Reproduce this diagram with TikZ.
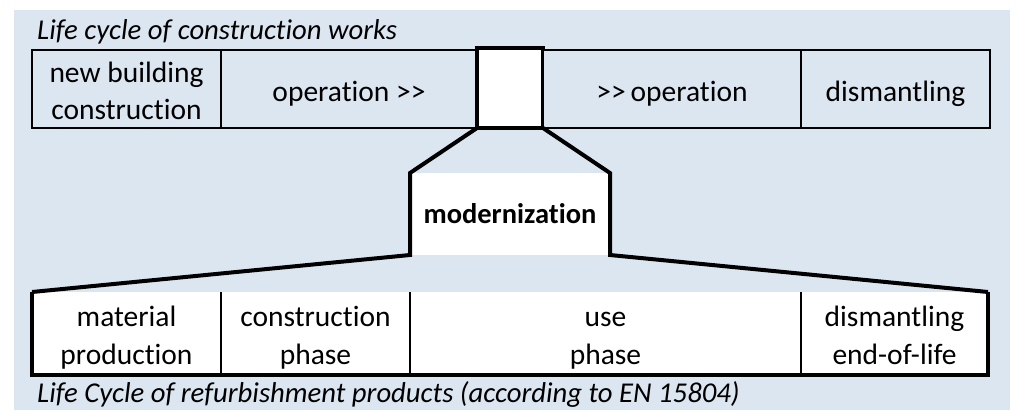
\documentclass[tikz,border=0pt]{standalone}
\usepackage{fontspec}
\setmainfont{Carlito}[Ligatures=NoCommon]
\usetikzlibrary{positioning}
\definecolor{panelbg}{RGB}{220,230,241}
\newcommand\headstrut{\rule{0pt}{32pt}}
\newcommand\footstrut{\rule[-8pt]{0pt}{8pt}}

\begin{document}
\begin{tikzpicture}[
  x=1pt, y=-1pt,
  font=\fontsize{29.5}{37.5}\selectfont,
  topcell/.style={draw=black, line width=2pt, fill=panelbg, align=center, minimum height=78pt, inner sep=0pt, outer sep=0pt},
  lowcell/.style={fill=white, align=center, minimum height=83pt, inner sep=0pt, outer sep=0pt},
  heavy/.style={line width=4pt, line join=miter},
  divider/.style={line width=2.5pt},
  caption/.style={font=\fontsize{28.7}{35}\selectfont\itshape, anchor=base west, inner sep=0pt}
]
  % page and panel
  \useasboundingbox (0,0) rectangle (1017,410);
  \fill[panelbg] (14,10) rectangle (1010,410);

  % life cycle of the building
  \node[caption] (lifecycle) at (37,39) {Life cycle of construction works};
  \node[topcell, minimum width=189pt, anchor=north west] (build) at (32,50) {\headstrut new building\\construction\footstrut};
  \node[topcell, minimum width=256pt, right=0pt of build] (opA) {\headstrut operation {>}{>}\footstrut};
  \node[topcell, fill=white, line width=3.5pt, minimum width=66pt, minimum height=80pt, anchor=south west] (gap) at (opA.south east) {};
  \node[topcell, minimum width=258pt, anchor=south west] (opB) at (gap.south east) {\headstrut{>}{>}\,operation\footstrut};
  \node[topcell, minimum width=189pt, right=0pt of opB] (dism) {\headstrut dismantling\footstrut};

  % zoomed step
  \node[fill=white, minimum width=200pt, minimum height=82pt, inner sep=0pt, outer sep=0pt, anchor=north west,
    font=\fontsize{28.5}{35}\selectfont\bfseries] (modern) at (410,173) {modernization};

  % life cycle of the products
  \node[lowcell, minimum width=189pt, anchor=north west] (mat) at (32,292) {\headstrut material\\production\footstrut};
  \node[lowcell, minimum width=189pt, right=0pt of mat] (constr) {\headstrut construction\\phase\footstrut};
  \node[lowcell, minimum width=391pt, right=0pt of constr] (use) {\headstrut use\\phase\footstrut};
  \node[lowcell, minimum width=187pt, right=0pt of use] (eol) {\headstrut dismantling\\end-of-life\footstrut};
  \node[caption] (refurb) at (37,402) {Life Cycle of refurbishment products (according to EN 15804)};

  \draw[divider] (mat.north east) -- (mat.south east);
  \draw[divider] (constr.north east) -- (constr.south east);
  \draw[divider] (use.north east) -- (use.south east);
  \draw[heavy] (mat.north west) -- (mat.south west) -- (eol.south east) -- (eol.north east);

  % funnel
  \draw[heavy] (gap.south west) -- (modern.north west) -- (modern.south west) -- (mat.north west);
  \draw[heavy] (gap.south east) -- (modern.north east) -- (modern.south east) -- (eol.north east);
\end{tikzpicture}
\end{document}
